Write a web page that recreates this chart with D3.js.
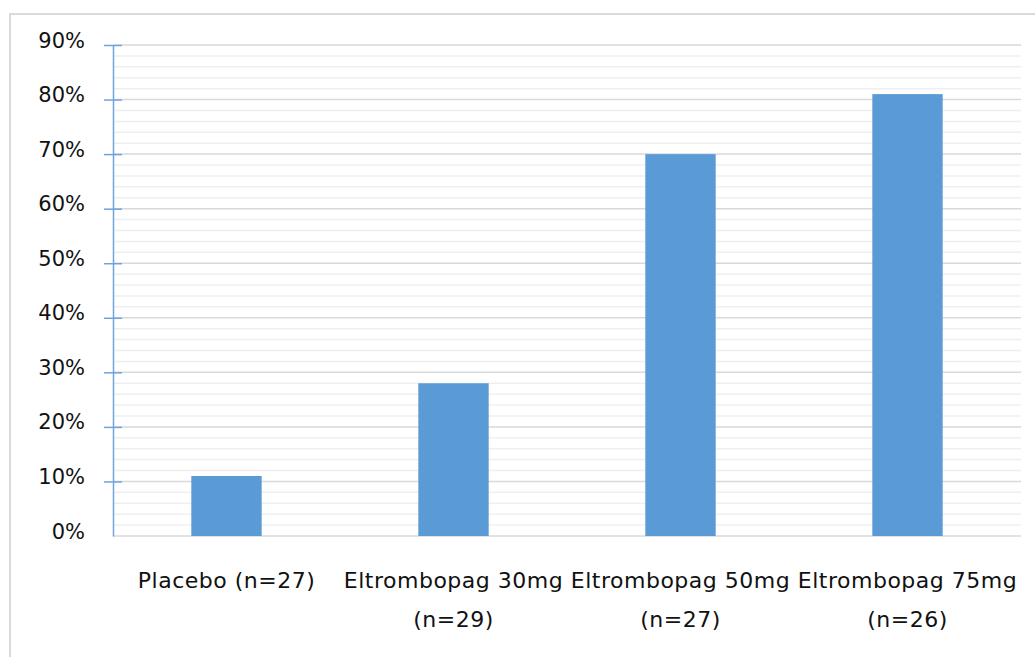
<!DOCTYPE html>
<html>
<head>
<meta charset="utf-8">
<script src="https://cdn.jsdelivr.net/npm/d3@7"></script>
<style>
  html, body { margin: 0; padding: 0; background: #ffffff; }
  svg { display: block; }
  text { font-family: "DejaVu Sans", Verdana, sans-serif; fill: #111; }
</style>
</head>
<body>
<script>
// Response rate by treatment arm
const categories = [
  "Placebo (n=27)",
  "Eltrombopag 30mg (n=29)",
  "Eltrombopag 50mg (n=27)",
  "Eltrombopag 75mg (n=26)"
];
const responseRates = [0.11, 0.28, 0.70, 0.81];
const yTicks = [0, 0.1, 0.2, 0.3, 0.4, 0.5, 0.6, 0.7, 0.8, 0.9];
const yMinorTicks = d3.range(0, 91, 2).map(v => v / 100);

const W = 1035, H = 657;
const margin = { top: 45, right: 14, bottom: 121, left: 113 };
const innerW = W - margin.left - margin.right;
const innerH = H - margin.top - margin.bottom;

const svg = d3.select("body").append("svg")
  .attr("width", W).attr("height", H);

// outer chart frame
svg.append("rect")
  .attr("x", 10).attr("y", 14)
  .attr("width", W + 20).attr("height", H + 20)
  .attr("fill", "none")
  .attr("stroke", "#d9d9d9")
  .attr("stroke-width", 2);

const g = svg.append("g")
  .attr("transform", `translate(${margin.left},${margin.top})`);

const x = d3.scaleBand()
  .domain(categories)
  .range([0, innerW])
  .paddingInner(0.69)
  .paddingOuter(0.345);

const y = d3.scaleLinear()
  .domain([0, 0.9])
  .range([innerH, 0]);

// minor gridlines
g.append("g").selectAll("line")
  .data(yMinorTicks.filter(v => Math.round(v * 100) % 10 !== 0))
  .join("line")
  .attr("x1", 0).attr("x2", innerW)
  .attr("y1", d => y(d)).attr("y2", d => y(d))
  .attr("stroke", "#efefef")
  .attr("stroke-width", 1.5);

// major gridlines
g.append("g").selectAll("line")
  .data(yTicks)
  .join("line")
  .attr("x1", 0).attr("x2", innerW)
  .attr("y1", d => y(d)).attr("y2", d => y(d))
  .attr("stroke", "#d9d9d9")
  .attr("stroke-width", 1.5);

// bars
g.append("g").selectAll("rect")
  .data(categories.map((c, i) => ({ c, v: responseRates[i] })))
  .join("rect")
  .attr("x", d => x(d.c))
  .attr("y", d => y(d.v))
  .attr("width", x.bandwidth())
  .attr("height", d => innerH - y(d.v))
  .attr("fill", "#5b9bd5");

// y axis
const yAxis = d3.axisLeft(y)
  .tickValues(yTicks)
  .tickFormat(d3.format(".0%"))
  .tickSizeOuter(0)
  .tickSizeInner(9)
  .tickPadding(19);

const ya = g.append("g").call(yAxis);
ya.select(".domain").attr("stroke", "#6fa3dc").attr("stroke-width", 1.5);
ya.selectAll(".tick line")
  .attr("stroke", "#6fa3dc").attr("stroke-width", 1.5)
  .attr("x2", d => d === 0 ? -9 : 9)
  .attr("x1", -9);
ya.selectAll(".tick text")
  .attr("font-size", 21)
  .attr("font-family", "DejaVu Sans, Verdana, sans-serif")
  .attr("fill", "#111")
  .attr("dy", "0.1em");

// category labels, wrapped to the band width
const xa = g.append("g").attr("transform", `translate(0,${innerH})`);
const slot = innerW / categories.length;
categories.forEach(c => {
  const cx = x(c) + x.bandwidth() / 2;
  const t = xa.append("text")
    .attr("text-anchor", "middle")
    .attr("font-size", 22)
    .attr("letter-spacing", 0.5)
    .attr("x", cx)
    .attr("y", 52);
  const words = c.split(" ");
  let line = [];
  let tspan = t.append("tspan").attr("x", cx).attr("dy", 0);
  words.forEach(w => {
    line.push(w);
    tspan.text(line.join(" "));
    if (tspan.node().getComputedTextLength() > slot + 4 && line.length > 1) {
      line.pop();
      tspan.text(line.join(" "));
      line = [w];
      tspan = t.append("tspan").attr("x", cx).attr("dy", 39).text(w);
    }
  });
});
</script>
</body>
</html>
